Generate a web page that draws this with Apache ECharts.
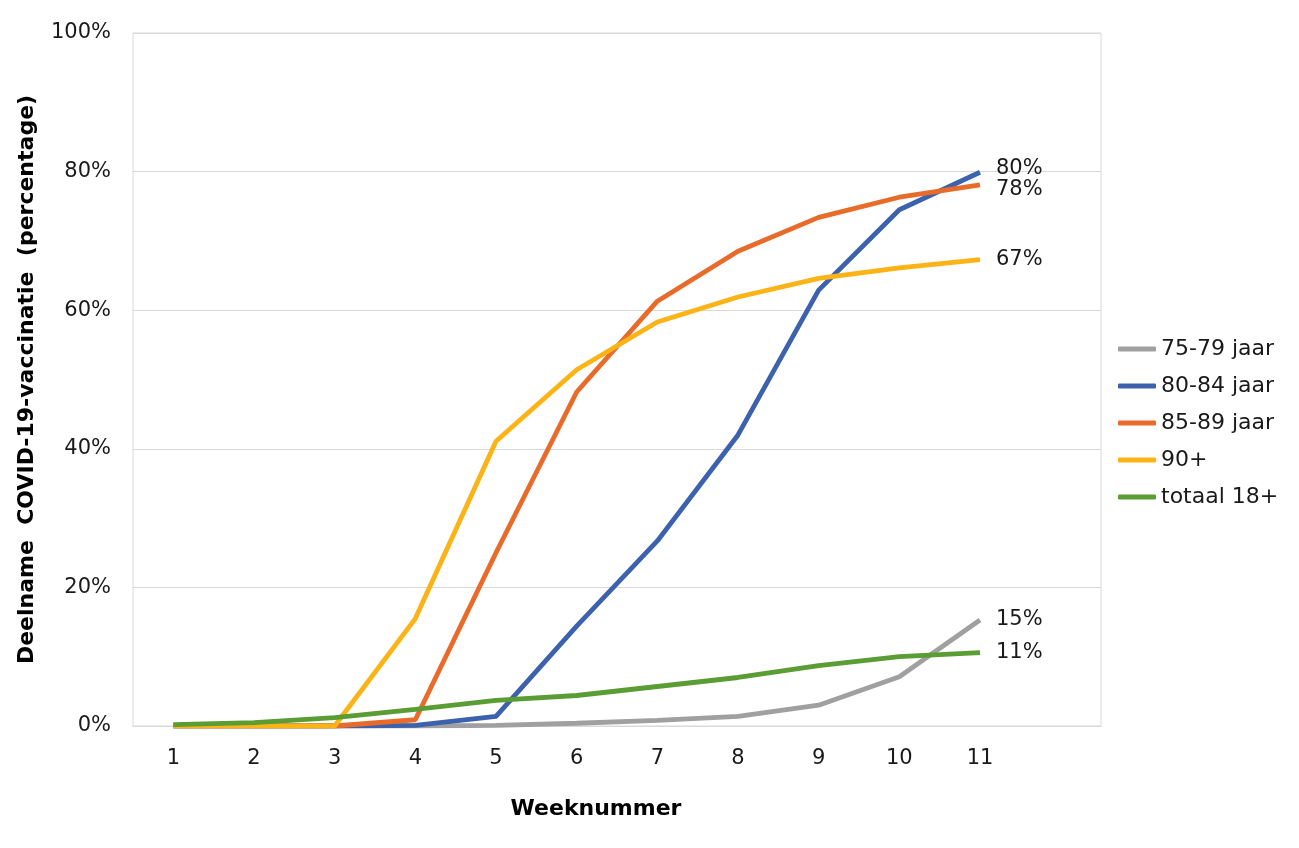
<!DOCTYPE html>
<html>
<head>
<meta charset="utf-8">
<script src="https://cdn.jsdelivr.net/npm/echarts@6/dist/echarts.min.js"></script>
<style>
html,body{margin:0;padding:0;background:#fff;}
#chart{width:1299px;height:848px;}
</style>
</head>
<body>
<div id="chart"></div>
<script>
const weeks = ['1','2','3','4','5','6','7','8','9','10','11',''];
const seriesNames = ['75-79 jaar','80-84 jaar','85-89 jaar','90+','totaal 18+'];
const s7579 = [0, 0, 0, 0, 0.1, 0.4, 0.8, 1.4, 3.0, 7.1, 15.3];
const s8084 = [0, 0, 0, 0.1, 1.4, 14.4, 26.7, 42.0, 62.9, 74.5, 79.9];
const s8589 = [0, 0, 0, 0.9, 25.0, 48.2, 61.3, 68.5, 73.4, 76.3, 78.1];
const s90 = [0, 0, 0, 15.5, 41.1, 51.4, 58.3, 61.9, 64.6, 66.1, 67.3];
const sTotaal = [0.2, 0.5, 1.2, 2.4, 3.7, 4.4, 5.7, 7.0, 8.7, 10.0, 10.6];
const colors = ['#a0a0a0', '#3d62ad', '#e96b2a', '#fbb316', '#5a9d34'];
const labelOffsets = [[0,0],[0,-4],[0,5],[0,0],[0,0]];

const font = 'DejaVu Sans, Verdana, sans-serif';
const allData = [s7579, s8084, s8589, s90, sTotaal];

const chart = echarts.init(document.getElementById('chart'));
chart.setOption({
  animation: false,
  color: colors,
  grid: {left: 133, right: 198, top: 33, bottom: 122, show: true, borderColor: '#d9d9d9', borderWidth: 1},
  legend: {
    orient: 'vertical',
    left: 1118,
    top: 338,
    padding: 0,
    icon: 'roundRect',
    itemWidth: 38,
    itemHeight: 5,
    itemGap: 15,
    textStyle: {fontFamily: font, fontSize: 22, color: '#1a1a1a', lineHeight: 22},
    data: seriesNames
  },
  xAxis: {
    type: 'category',
    data: weeks,
    boundaryGap: true,
    axisTick: {show: false},
    axisLine: {lineStyle: {color: '#d9d9d9'}},
    axisLabel: {fontFamily: font, fontSize: 21, color: '#1a1a1a', margin: 22},
    name: 'Weeknummer',
    nameLocation: 'middle',
    nameGap: 72,
    nameTextStyle: {fontFamily: font, fontSize: 22, fontWeight: 'bold', color: '#000', padding: [0, 42, 0, 0]}
  },
  yAxis: {
    type: 'value',
    min: 0, max: 100, interval: 20,
    axisLine: {show: false},
    axisTick: {show: false},
    splitLine: {lineStyle: {color: '#d9d9d9'}},
    axisLabel: {fontFamily: font, fontSize: 21, color: '#1a1a1a', margin: 22, formatter: '{value}%'},
    name: 'Deelname  COVID-19-vaccinatie  (percentage)',
    nameLocation: 'middle',
    nameGap: 95,
    nameTextStyle: {fontFamily: font, fontSize: 22, fontWeight: 'bold', color: '#000'}
  },
  series: seriesNames.map((n, i) => ({
    name: n,
    type: 'line',
    data: allData[i],
    showSymbol: false,
    symbol: 'none',
    lineStyle: {width: 4.8, color: colors[i]},
    itemStyle: {color: colors[i]},
    z: 2 + i,
    endLabel: {
      show: true,
      formatter: p => Math.round(p.value) + '%',
      fontFamily: font, fontSize: 21, color: '#1a1a1a',
      distance: 16,
      offset: labelOffsets[i]
    }
  }))
});
</script>
</body>
</html>
